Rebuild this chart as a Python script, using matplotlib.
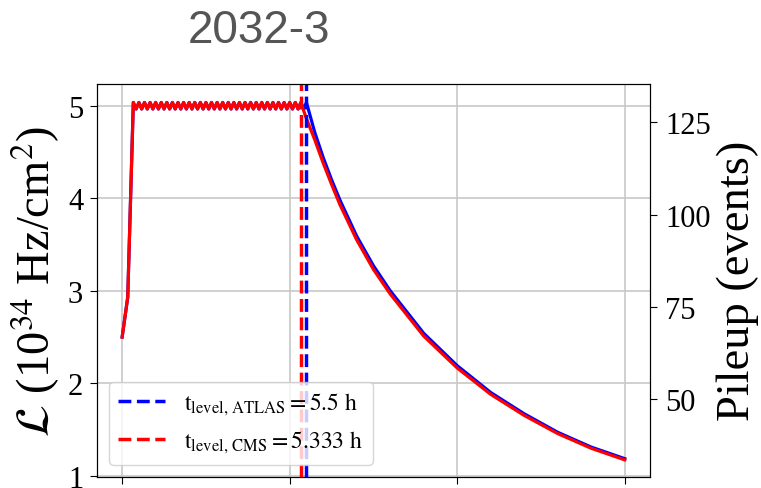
import matplotlib
matplotlib.use("Agg")
import matplotlib.pyplot as plt
import numpy as np

plt.rcParams['font.family'] = ['Liberation Serif', 'DejaVu Serif']
plt.rcParams['mathtext.fontset'] = 'stix'

title_text = "2032-3"

# time in minutes
t_rise = [0, 10]
lumi_rise = [2.5, 2.93]

t_plateau = [20, 25, 30, 35, 40, 45, 50, 55, 60, 65, 70, 75, 80, 85, 90, 95,
             100, 105, 110, 115, 120, 125, 130, 135, 140, 145, 150, 155, 160,
             165, 170, 175, 180, 185, 190, 195, 200, 205, 210, 215, 220, 225,
             230, 235, 240, 245, 250, 255, 260, 265, 270, 275, 280, 285, 290,
             295, 300, 305, 310, 315, 320, 325, 330]
lumi_plateau = [5.035, 4.965, 5.035, 4.965, 5.035, 4.965, 5.035, 4.965, 5.035, 4.965,
                5.035, 4.965, 5.035, 4.965, 5.035, 4.965, 5.035, 4.965, 5.035, 4.965,
                5.035, 4.965, 5.035, 4.965, 5.035, 4.965, 5.035, 4.965, 5.035, 4.965,
                5.035, 4.965, 5.035, 4.965, 5.035, 4.965, 5.035, 4.965, 5.035, 4.965,
                5.035, 4.965, 5.035, 4.965, 5.035, 4.965, 5.035, 4.965, 5.035, 4.965,
                5.035, 4.965, 5.035, 4.965, 5.035, 4.965, 5.035, 4.965, 5.035, 4.965,
                5.035, 4.965, 5.035]

n_red_plateau = 61   # plateau until 320 min (5.333 h)

t_decay_atlas = [345, 360, 375, 390, 420, 450, 480, 540, 600, 660, 720, 780, 840, 900]
lumi_decay_atlas = [4.71, 4.44, 4.20, 3.98, 3.59, 3.27, 3.00, 2.54, 2.19, 1.90, 1.67, 1.47, 1.31, 1.185]

t_decay_cms = [330, 345, 360, 375, 390, 420, 450, 480, 540, 600, 660, 720, 780, 840, 900]
lumi_decay_cms = [4.86, 4.63, 4.38, 4.15, 3.93, 3.55, 3.23, 2.965, 2.51, 2.165, 1.88, 1.652, 1.456, 1.297, 1.172]

t_level_atlas = 5.5
t_level_cms = 5.333

x_ticks = [0, 5, 10, 15]
y_ticks_left = [1, 2, 3, 4, 5]
y_ticks_right = [50, 75, 100, 125]

t_atlas = np.array(t_rise + t_plateau + t_decay_atlas) / 60.0
l_atlas = np.array(lumi_rise + lumi_plateau + lumi_decay_atlas)
t_cms = np.array(t_rise + t_plateau[:n_red_plateau] + t_decay_cms) / 60.0
l_cms = np.array(lumi_rise + lumi_plateau[:n_red_plateau] + lumi_decay_cms)

fig = plt.figure(figsize=(7.61, 4.89), dpi=100)
ax = fig.add_axes([0.1275, 0.0231, 0.7265, 0.8031])

ax.plot(t_atlas, l_atlas, color='blue', lw=2.3, zorder=3)
ax.plot(t_cms, l_cms, color='red', lw=2.3, zorder=4)
ax.axvline(t_level_atlas, color='blue', ls='--', lw=2.5, zorder=5,
           label=r'$\mathrm{t_{level,\,ATLAS} = 5.5\ h}$')
ax.axvline(t_level_cms, color='red', ls='--', lw=2.5, zorder=5,
           label=r'$\mathrm{t_{level,\,CMS} = 5.333\ h}$')

ax.set_xlim(-0.75, 15.75)
ax.set_ylim(0.99, 5.235)
ax.set_xticks(x_ticks)
ax.set_yticks(y_ticks_left)
ax.tick_params(axis='x', labelbottom=False, length=5)
ax.tick_params(axis='y', labelsize=22, length=5, pad=5)
ax.grid(True, color='#c8c8c8', lw=1.2)
ax.set_axisbelow(True)
ax.set_ylabel(r'$\mathcal{L}$ (10$^{34}$ Hz/cm$^2$)', fontsize=33.5, labelpad=4)

leg = ax.legend(loc='lower left', fontsize=17, framealpha=0.8)
leg.set_zorder(10)

ax2 = ax.twinx()
ax2.set_ylim(29.1, 135.3)
ax2.set_yticks(y_ticks_right)
ax2.tick_params(axis='y', labelsize=22, length=5, pad=6)
ax2.set_ylabel('Pileup (events)', fontsize=33.5, labelpad=4)

fig.text(259 / 761, 1 - 31 / 489, title_text, ha='center', va='center',
         fontsize=33, color='#555555', family='Liberation Sans')

fig.savefig('out.png', dpi=100)
